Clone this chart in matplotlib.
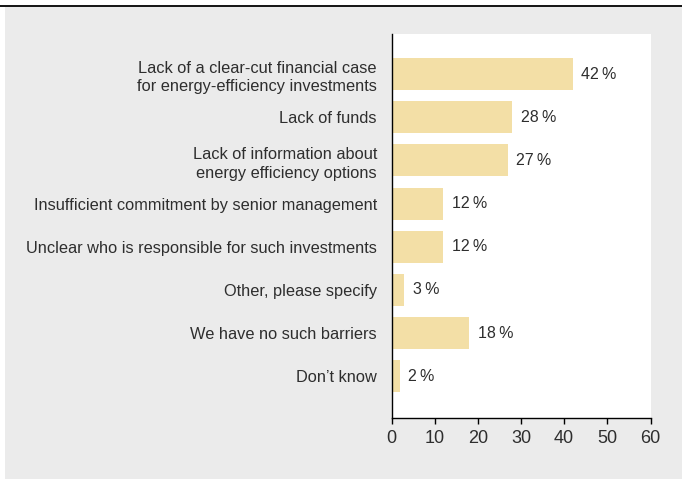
import matplotlib
matplotlib.use("Agg")
import matplotlib.pyplot as plt
from matplotlib.patches import Rectangle
from matplotlib.lines import Line2D

categories = [
    "Lack of a clear-cut financial case\nfor energy-efficiency investments",
    "Lack of funds",
    "Lack of information about\nenergy efficiency options",
    "Insufficient commitment by senior management",
    "Unclear who is responsible for such investments",
    "Other, please specify",
    "We have no such barriers",
    "Don\u2019t know",
]
values = [42, 28, 27, 12, 12, 3, 18, 2]
xticks = [0, 10, 20, 30, 40, 50, 60]

text_col = "#2e2e2e"
bar_col = "#f3dfa6"
panel_col = "#ebebeb"

plt.rcParams["font.family"] = ["Liberation Sans", "DejaVu Sans"]

W, H = 682, 479
fig = plt.figure(figsize=(W / 100, H / 100), dpi=100)
fig.patch.set_facecolor("white")

# grey panel and top rule
fig.patches.append(Rectangle((5 / W, 0.0), 1 - 5 / W, (H - 7) / H,
                             transform=fig.transFigure, facecolor=panel_col,
                             edgecolor="none", zorder=-10))
fig.lines.append(Line2D([0, 1], [1 - 5.5 / H, 1 - 5.5 / H], transform=fig.transFigure,
                        color="black", linewidth=1.3))

ax = fig.add_axes([391.5 / W, 1 - 418 / H, (650.5 - 391.5) / W, (418 - 34) / H])
ax.set_facecolor("white")

ypos = list(range(len(categories)))
ax.barh(ypos, values, height=0.74, color=bar_col, zorder=2)
for y, v in zip(ypos, values):
    ax.annotate(f"{v}\u2009%", (v, y), xytext=(6, 0), textcoords="offset points",
                ha="left", va="center", fontsize=11.5, color=text_col)

ax.set_xlim(0, 60)
ax.set_ylim(7.97, -0.93)
ax.set_xticks(xticks)
ax.set_yticks(ypos)
ax.set_yticklabels(categories, fontsize=11.8, color=text_col, linespacing=1.3)
ax.tick_params(axis="y", length=0, pad=10.5)
ax.tick_params(axis="x", length=4, width=1, direction="out", labelsize=13,
               labelcolor=text_col, pad=4.5)
for s in ["top", "right"]:
    ax.spines[s].set_visible(False)
for s in ["left", "bottom"]:
    ax.spines[s].set_color("black")
    ax.spines[s].set_linewidth(1)

fig.savefig("out.png", dpi=100)
